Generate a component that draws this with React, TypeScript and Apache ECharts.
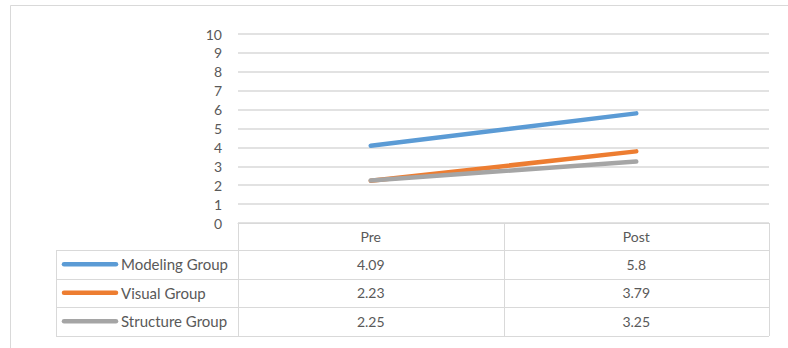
import React, { useEffect, useRef } from "react";
import * as echarts from "echarts";

const categories = ["Pre", "Post"];
const seriesNames = ["Modeling Group", "Visual Group", "Structure Group"];
const modelingValues = [4.09, 5.8];
const visualValues = [2.23, 3.79];
const structureValues = [2.25, 3.25];
const seriesValues = [modelingValues, visualValues, structureValues];
const seriesColors = ["#5B9BD5", "#ED7D31", "#A5A5A5"];
const yTicks = { min: 0, max: 10, interval: 1 };

const FONT = "Lato";
const TEXT = "#595959";
const LINE = "#D9D9D9";

export default function App() {
  const ref = useRef<HTMLDivElement>(null);
  useEffect(() => {
    if (!ref.current) return;
    const chart = echarts.init(ref.current, undefined, { renderer: "svg" });
    const W = 788;
    const gridLeft = 238;
    const gridRight = 769;
    const axisY = 223;
    const headerBottom = 250;
    const rowH = 28.5;
    const tableLeft = 56;
    const colW = (gridRight - gridLeft) / categories.length;
    const tableBottom = Math.round(headerBottom + rowH * seriesNames.length);

    const graphics: any[] = [];
    const ln = (x1: number, y1: number, x2: number, y2: number, color = LINE, w = 1) =>
      graphics.push({
        type: "line",
        silent: true,
        shape: { x1, y1, x2, y2 },
        style: { stroke: color, lineWidth: w },
      });
    // outer frame
    ln(10.5, 5.5, W, 5.5);
    ln(10.5, 5.5, 10.5, 348);
    // table
    for (let i = 0; i <= seriesNames.length; i++) {
      const y = Math.round(headerBottom + i * rowH) + 0.5;
      ln(tableLeft, y, gridRight, y);
    }
    ln(tableLeft + 0.5, headerBottom, tableLeft + 0.5, tableBottom);
    for (let c = 0; c <= categories.length; c++) {
      const x = Math.round(gridLeft + c * colW) + 0.5;
      ln(x, axisY, x, tableBottom);
    }
    seriesNames.forEach((name, i) => {
      const cy = headerBottom + i * rowH + rowH / 2;
      graphics.push({
        type: "line",
        silent: true,
        shape: { x1: 64, y1: cy, x2: 116, y2: cy },
        style: { stroke: seriesColors[i], lineWidth: 4.5, lineCap: "round" },
      });
      graphics.push({
        type: "text",
        silent: true,
        x: 121,
        y: cy,
        style: {
          text: name,
          fill: TEXT,
          font: `15px ${FONT}`,
          verticalAlign: "middle",
          align: "left",
        },
      });
      seriesValues[i].forEach((v, c) => {
        graphics.push({
          type: "text",
          silent: true,
          x: gridLeft + colW * (c + 0.5),
          y: cy,
          style: {
            text: String(v),
            fill: TEXT,
            font: `14px ${FONT}`,
            verticalAlign: "middle",
            align: "center",
          },
        });
      });
    });

    chart.setOption({
      animation: false,
      backgroundColor: "#FFFFFF",
      grid: { left: gridLeft, right: W - gridRight, top: 34, bottom: 348 - axisY },
      xAxis: {
        type: "category",
        data: categories,
        boundaryGap: true,
        axisLine: { show: true, lineStyle: { color: LINE, width: 1 } },
        axisTick: { show: false },
        axisLabel: { color: TEXT, fontFamily: FONT, fontSize: 14, margin: 6 },
      },
      yAxis: {
        type: "value",
        min: yTicks.min,
        max: yTicks.max,
        interval: yTicks.interval,
        axisLine: { show: false },
        axisTick: { show: false },
        axisLabel: { color: TEXT, fontFamily: FONT, fontSize: 14, margin: 16 },
        splitLine: { lineStyle: { color: LINE, width: 1.5 } },
      },
      series: seriesNames.map((name, i) => ({
        name,
        type: "line",
        data: seriesValues[i],
        symbol: "none",
        lineStyle: { color: seriesColors[i], width: 4.5, cap: "round" },
        itemStyle: { color: seriesColors[i] },
      })),
      graphic: graphics,
    });
    return () => chart.dispose();
  }, []);
  return <div ref={ref} style={{ width: 788, height: 348, position: "absolute", left: 0, top: 0 }} />;
}
